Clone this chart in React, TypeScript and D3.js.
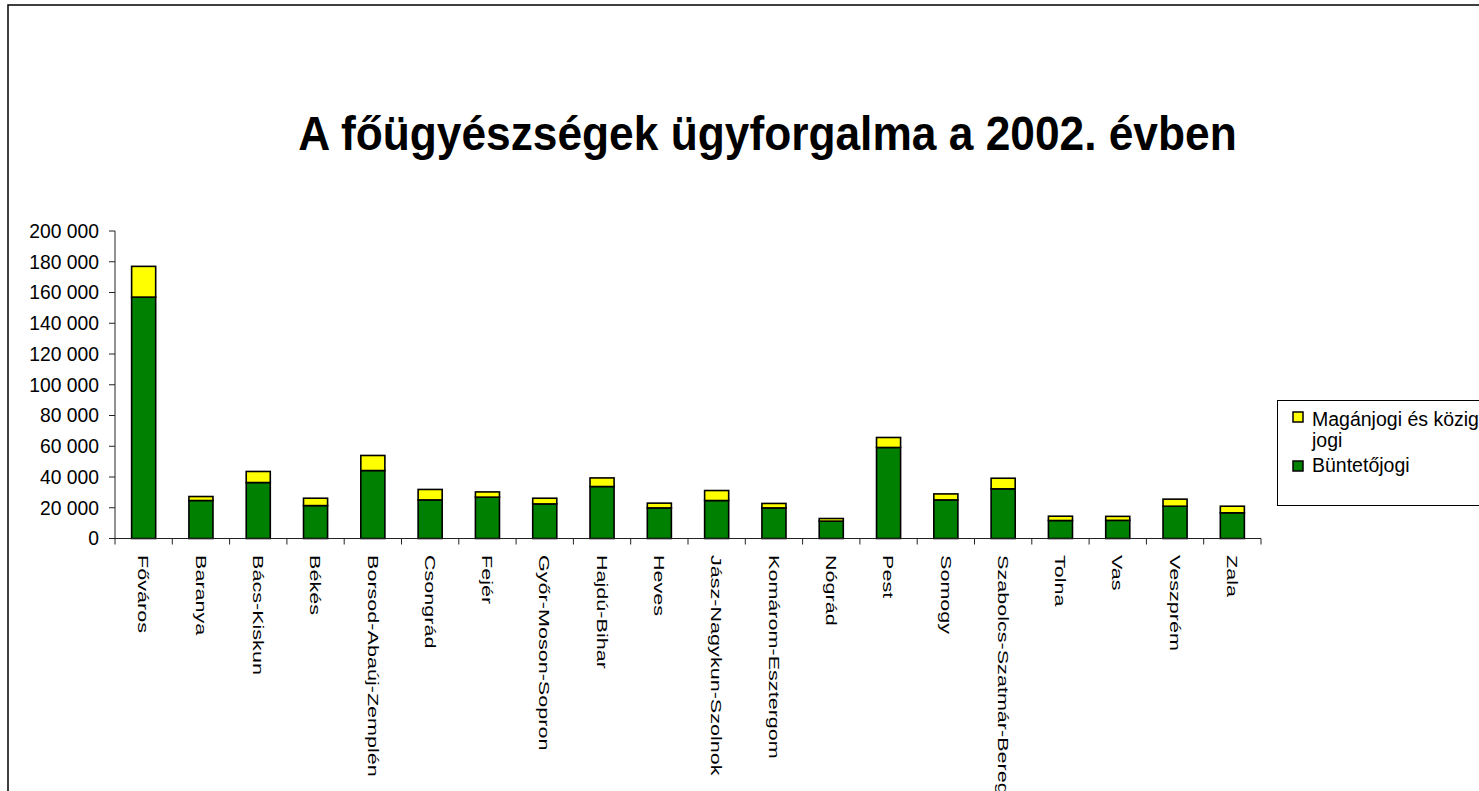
import React from 'react'
import * as d3 from 'd3'

// megyék / főügyészségek
const categories = [
  'Főváros', 'Baranya', 'Bács-Kiskun', 'Békés', 'Borsod-Abaúj-Zemplén', 'Csongrád',
  'Fejér', 'Győr-Moson-Sopron', 'Hajdú-Bihar', 'Heves', 'Jász-Nagykun-Szolnok',
  'Komárom-Esztergom', 'Nógrád', 'Pest', 'Somogy', 'Szabolcs-Szatmár-Bereg',
  'Tolna', 'Vas', 'Veszprém', 'Zala',
]
const buntetojogi = [
  157000, 24700, 36400, 21400, 44200, 25100, 26900, 22500, 33800, 19900,
  24700, 19900, 11300, 59200, 25100, 32300, 11700, 11800, 21000, 16700,
]
const maganjogi = [
  20000, 2600, 7200, 4800, 9800, 6800, 3400, 3700, 5600, 3100,
  6500, 2900, 1700, 6500, 3900, 6900, 2800, 2600, 4600, 4300,
]
const yTicks = [0, 20000, 40000, 60000, 80000, 100000, 120000, 140000, 160000, 180000, 200000]
const title = 'A főügyészségek ügyforgalma a 2002. évben'
const seriesNames = { magan: 'Magánjogi és közigazgatási', maganLine2: 'jogi', bunteto: 'Büntetőjogi' }

const W = 1479
const H = 791
const font = 'Arial, "Liberation Sans", Helvetica, sans-serif'
const colors = { bunteto: '#008000', magan: '#ffff00' }

const fmt = (v: number) => d3.format(',')(v).replace(/,/g, ' ')

const App = () => {
  const x = d3
    .scaleBand()
    .domain(categories)
    .range([115, 1261])
    .paddingInner(0.58)
    .paddingOuter(0.29)
  const y = d3.scaleLinear().domain([0, 200000]).range([538.5, 231])

  const rows = categories.map((c, i) => ({ cat: c, bunteto: buntetojogi[i], magan: maganjogi[i] }))
  const stacked = d3.stack().keys(['bunteto', 'magan'])(rows as any)

  const x0 = x.range()[0]
  const boundaries = d3.range(categories.length + 1).map(i => x0 + i * x.step())

  return (
    <svg
      width={W}
      height={H}
      style={{ position: 'absolute', left: 0, top: 0, display: 'block', background: '#fff' }}
      fontFamily={font}
    >
      {/* frame */}
      <path d={`M8,${H} V5 H${W}`} fill="none" stroke="#000" strokeWidth={1.5} />

      <text
        transform="translate(767.5 150) scale(1 1.1)"
        textAnchor="middle"
        fontSize={44.3}
        fontWeight="bold"
        fill="#000"
      >
        {title}
      </text>

      {/* y axis */}
      <line x1={115} x2={115} y1={y(200000)} y2={y(0)} stroke="#222" />
      {yTicks.map(t => (
        <g key={t}>
          <line x1={109} x2={115} y1={y(t)} y2={y(t)} stroke="#222" />
          <text x={99} y={y(t)} dy="0.35em" textAnchor="end" fontSize={19.3} fill="#000">
            {fmt(t)}
          </text>
        </g>
      ))}

      {/* bars */}
      {stacked.map(s => (
        <g key={s.key} fill={colors[s.key as 'bunteto' | 'magan']}>
          {s.map((d, i) => (
            <rect
              key={i}
              x={x(categories[i])}
              width={x.bandwidth()}
              y={y(d[1])}
              height={y(d[0]) - y(d[1])}
              stroke="#000"
              strokeWidth={1.6}
            />
          ))}
        </g>
      ))}

      {/* x axis */}
      <line x1={x0} x2={boundaries[boundaries.length - 1]} y1={y(0)} y2={y(0)} stroke="#222" />
      {boundaries.map((b, i) => (
        <line key={i} x1={b} x2={b} y1={y(0)} y2={y(0) + 6} stroke="#222" />
      ))}
      {categories.map(c => (
        <text
          key={c}
          transform={`translate(${x(c)! + x.bandwidth() / 2} 555) rotate(90) scale(1.42 1)`}
          dominantBaseline="central"
          fontSize={15.2}
          fill="#000"
        >
          {c}
        </text>
      ))}

      {/* legend */}
      <rect x={1277.5} y={400.5} width={260} height={105} fill="#fff" stroke="#000" />
      <rect x={1293} y={412} width={10} height={10} fill={colors.magan} stroke="#000" strokeWidth={1.5} />
      <text x={1312} y={426} fontSize={19.5} fill="#000">{seriesNames.magan}</text>
      <text x={1312} y={447} fontSize={19.5} fill="#000">{seriesNames.maganLine2}</text>
      <rect x={1293} y={461} width={10} height={10} fill={colors.bunteto} stroke="#000" strokeWidth={1.5} />
      <text x={1312} y={472} fontSize={19.5} fill="#000">{seriesNames.bunteto}</text>
    </svg>
  )
}

export default App
